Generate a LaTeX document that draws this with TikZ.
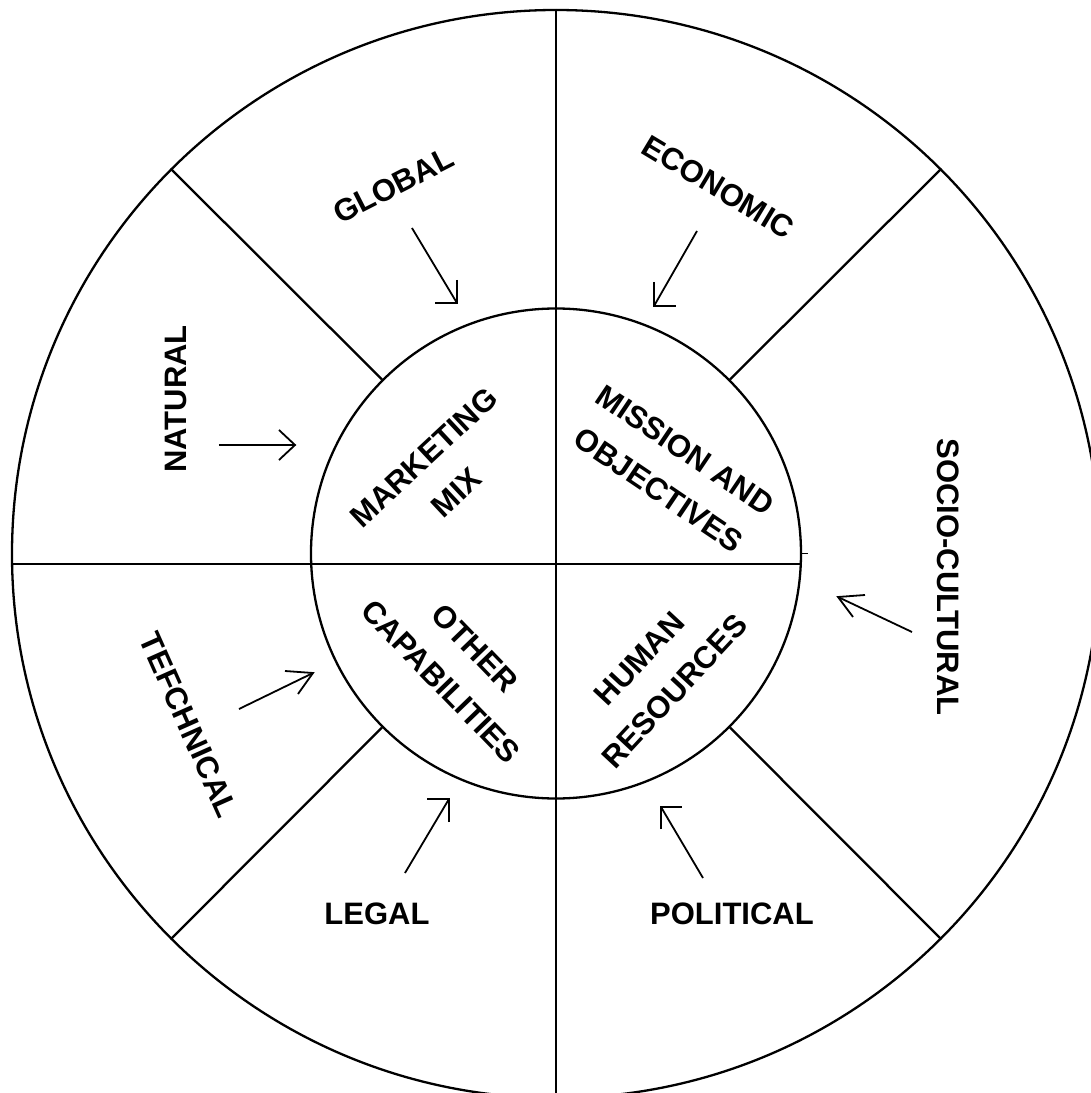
\documentclass[tikz,border=0pt]{standalone}
\usepackage{fontspec}
\setmainfont{Liberation Sans}
\begin{document}
\begin{tikzpicture}[x=1pt,y=1pt,
  ring/.style={line width=2.3pt},
  arr/.style={line width=1.8pt, line join=miter, line cap=butt},
  lbl/.style={font=\fontsize{31}{48}\selectfont\bfseries, inner sep=0pt, align=center}]
\useasboundingbox (-556,-539) rectangle (535,554);
\clip (-556,-539) rectangle (535,554);
% circles
\node[circle, draw, ring, minimum size=1088pt, inner sep=0pt] (outer) at (0,0) {};
\node[circle, draw, ring, minimum size=490pt, inner sep=0pt] (inner) at (0,0.5) {};
% dividers
\draw[ring] (outer.north) -- (outer.south);
\coordinate (hl) at (-544,-10);
\coordinate (hr) at (244.8,-10);
\draw[ring] (hl) -- (hr);
\draw[line width=1.8pt] (inner.east) -- ++(6,0);
\foreach \a in {45,135,225,315}{\draw[ring] (inner.\a) -- (outer.\a);}
% arrow coordinates
\coordinate (G0) at (-144,326); \coordinate (G1) at (-99,251);
\coordinate (Ga) at (-99,274);  \coordinate (Gb) at (-121,251);
\coordinate (E0) at (141,323);  \coordinate (E1) at (98,248);
\coordinate (Ea) at (98,272);   \coordinate (Eb) at (120,248);
\coordinate (L0) at (-151,-319); \coordinate (L1) at (-107,-245);
\coordinate (La) at (-107,-268); \coordinate (Lb) at (-129,-245);
\coordinate (P0) at (147,-324); \coordinate (P1) at (105,-253);
\coordinate (Pa) at (105,-275); \coordinate (Pb) at (126,-253);
\coordinate (N0) at (-337,109); \coordinate (N1) at (-261,109);
\coordinate (Na) at (-277,124); \coordinate (Nb) at (-277,94);
\coordinate (T0) at (-317,-155); \coordinate (T1) at (-243,-119);
\coordinate (Ta) at (-271,-117); \coordinate (Tb) at (-258,-140);
\coordinate (S0) at (356,-78); \coordinate (S1) at (282,-43);
\coordinate (Sa) at (309,-41); \coordinate (Sb) at (297,-63);
\foreach \p in {G,E,L,P,N,T,S}{
  \draw[arr] (\p0) -- (\p1);
  \draw[arr] (\p a) -- (\p1) -- (\p b);
}
% outer labels
\node[lbl, rotate=27] (global) at (-162.5,368.5) {GLOBAL};
\node[lbl, rotate=-31] (economic) at (162,367) {ECONOMIC};
\node[lbl, rotate=90] (natural) at (-380,155) {NATURAL};
\node[lbl, rotate=-90] (socio) at (392,-23) {SOCIO-CULTURAL};
\node[lbl, rotate=-66] (tech) at (-367,-171) {TEFCHNICAL};
\node[lbl] (legal) at (-179,-360) {LEGAL};
\node[lbl] (political) at (176,-360) {POLITICAL};
% inner labels
\node[lbl, rotate=43] (mix) at (-116,79) {MARKETING\\MIX};
\node[lbl, rotate=-34] (mission) at (116,84) {MISSION AND\\OBJECTIVES};
\node[lbl, rotate=-46] (other) at (-98,-111) {OTHER\\CAPABILITIES};
\node[lbl, rotate=47] (human) at (101,-121) {HUMAN\\RESOURCES};
\end{tikzpicture}
\end{document}
